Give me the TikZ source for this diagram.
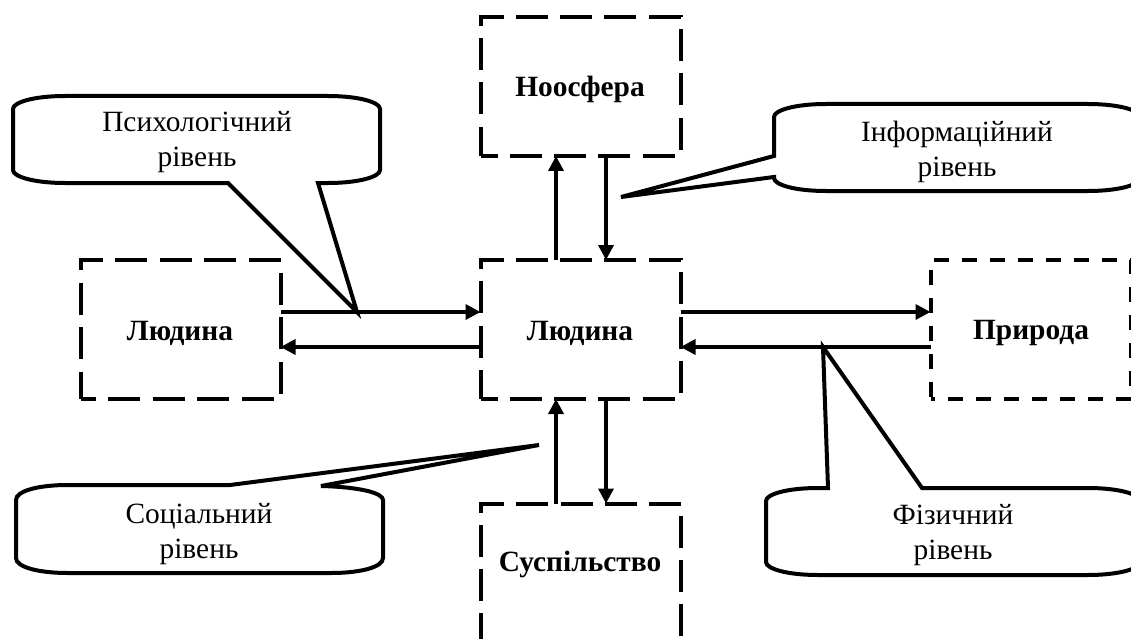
\documentclass[tikz,border=0pt]{standalone}
\usepackage{fontspec}
\setmainfont{Liberation Serif}
\usetikzlibrary{arrows.meta}
\tikzset{
  x=1pt,y=-1pt,
  boxlong/.style={draw,line width=4pt,inner sep=0pt,outer sep=0pt,minimum width=200pt,minimum height=139pt,
    dash pattern=on 32pt off 12.25pt,dash phase=15pt},
  boxleft/.style={boxlong,dash pattern=on 32pt off 12.5pt,dash phase=17pt},
  boxshort/.style={boxlong,dash pattern=on 15pt off 13pt,dash phase=11pt},
  boxlabel/.style={font=\fontsize{29.4}{35}\selectfont\bfseries},
  conn/.style={line width=3.5pt,-{Triangle[length=15pt,width=15pt]}},
  bubble/.style={line width=4pt,line join=miter,miter limit=5},
  bubbletext/.style={align=center,inner sep=0pt,font=\fontsize{29.4}{35}\selectfont},
}
\begin{document}
\begin{tikzpicture}
\useasboundingbox (0,0) rectangle (1131,639);
\clip (0,0) rectangle (1131,639);
\fill[white] (0,0) rectangle (1131,639);
% boxes
\node[boxlong] (noo) at (580.5,86.5) {};
\node[boxleft] (lud) at (180.5,329.5) {};
\node[boxlong] (cen) at (580.5,329.5) {};
\node[boxshort] (pry) at (1030.5,329.5) {};
\node[boxlong] (sus) at (581,573) {};
% labels
\node[boxlabel] (tnoo) at (580,89) {Ноосфера};
\node[boxlabel] (tlud) at (180,333) {Людина};
\node[boxlabel] (tcen) at (580,333) {Людина};
\node[boxlabel] (tpry) at (1031,333) {Природа};
\node[boxlabel] (tsus) at (580,564) {Суспільство};
% connectors
\draw[conn] ([yshift=17.5pt]lud.east) -- ([yshift=17.5pt]cen.west);
\draw[conn] ([yshift=-17.5pt]cen.west) -- ([yshift=-17.5pt]lud.east);
\draw[conn] ([yshift=17.5pt]cen.east) -- ([yshift=17.5pt]pry.west);
\draw[conn] ([yshift=-17.5pt]pry.west) -- ([yshift=-17.5pt]cen.east);
\draw[conn] ([xshift=-24.5pt]cen.north) -- ([xshift=-24.5pt]noo.south);
\draw[conn] ([xshift=25.5pt]noo.south) -- ([xshift=25.5pt]cen.north);
\draw[conn] ([xshift=-25pt]sus.north) -- ([xshift=-24.5pt]cen.south);
\draw[conn] ([xshift=25.5pt]cen.south) -- ([xshift=25pt]sus.north);
% callouts
\draw[bubble] (228,183) -- (357,312) -- (318,183) -- (328,183)
  .. controls (358,183) and (380,177) .. (380,170) -- (380,109)
  .. controls (380,102) and (358,96) .. (328,96) -- (65,96)
  .. controls (35,96) and (13,102) .. (13,109) -- (13,170)
  .. controls (13,177) and (35,183) .. (65,183) -- cycle;
\node[bubbletext] (tpsy) at (197,142) {Психологічний\\рівень};
\draw[bubble] (774,156) -- (621,197) -- (774,177) -- (774,178)
  .. controls (774,185) and (796,191) .. (826,191) -- (1088,191)
  .. controls (1118,191) and (1140,185) .. (1140,178) -- (1140,117)
  .. controls (1140,110) and (1118,104) .. (1088,104) -- (826,104)
  .. controls (796,104) and (774,110) .. (774,117) -- cycle;
\node[bubbletext] (tinf) at (957,152) {Інформаційний\\рівень};
\draw[bubble] (230,485) -- (539,445) -- (321,486)
  .. controls (360,487) and (383,493) .. (383,500) -- (383,558)
  .. controls (383,567) and (361,573) .. (331,573) -- (68,573)
  .. controls (38,573) and (16,567) .. (16,558) -- (16,500)
  .. controls (16,491) and (38,485) .. (68,485) -- cycle;
\node[bubbletext] (tsoc) at (199,534) {Соціальний\\рівень};
\draw[bubble] (828,488) -- (823,347) -- (922,488) -- (1088,488)
  .. controls (1118,488) and (1140,494) .. (1140,501) -- (1140,562)
  .. controls (1140,569) and (1118,575) .. (1088,575) -- (818,575)
  .. controls (788,575) and (766,569) .. (766,562) -- (766,501)
  .. controls (766,494) and (788,488) .. (818,488) -- cycle;
\node[bubbletext] (tfiz) at (953,535) {Фізичний\\рівень};
\end{tikzpicture}
\end{document}
